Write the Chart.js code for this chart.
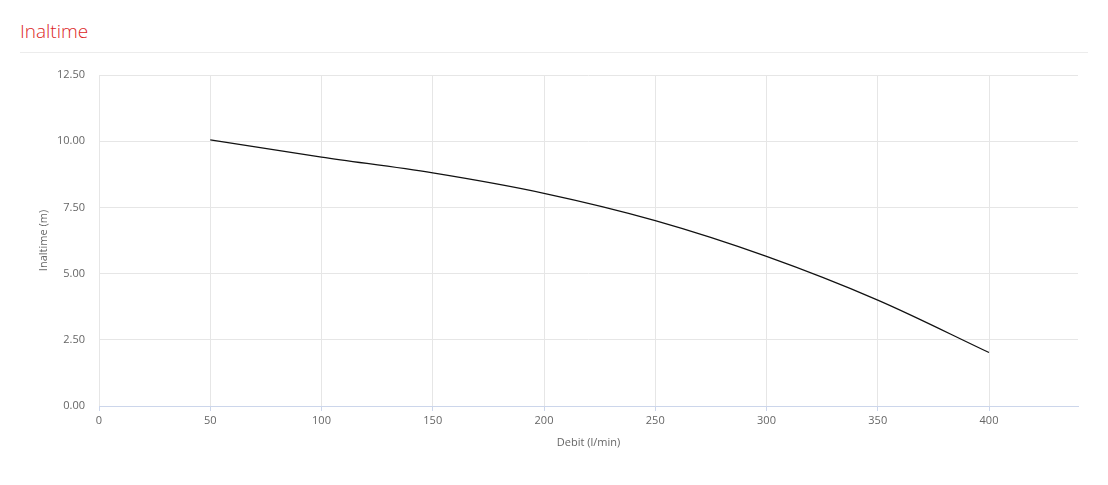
<!DOCTYPE html>
<html>
<head>
<meta charset="utf-8">
<script src="https://cdn.jsdelivr.net/npm/chart.js@4.4.1/dist/chart.umd.min.js"></script>
<style>
    html, body { margin: 0; padding: 0; background: #fff; }
    body { width: 1108px; height: 485px; position: relative; overflow: hidden; font-family: "Open Sans", sans-serif; }
    .titlu {
        position: absolute; left: 20px; top: 18px; width: 1068px;
        font-size: 19px; font-weight: 300; color: #dc1f27;
        padding-bottom: 8px; border-bottom: 1px solid #ececec;
        line-height: 26px;
    }
    #wrap { position: absolute; left: 0; top: 0; width: 1108px; height: 485px; }
</style>
</head>
<body>
<div class="titlu">Inaltime</div>
<div id="wrap"><canvas id="curba"></canvas></div>
<script>
// Debit (l/min) si inaltime (m)
const debit = [50, 100, 150, 200, 250, 300, 350, 400];
const inaltime = [10.05, 9.4, 8.8, 8.03, 7.0, 5.65, 4.0, 2.02];
const yTicks = [0, 2.5, 5, 7.5, 10, 12.5];

const gri = '#666666';

new Chart(document.getElementById('curba').getContext('2d'), {
    type: 'line',
    data: {
        datasets: [{
            data: debit.map((x, i) => ({ x: x, y: inaltime[i] })),
            borderColor: '#111111',
            borderWidth: 1.3,
            pointRadius: 0,
            fill: false,
            cubicInterpolationMode: 'monotone'
        }]
    },
    options: {
        responsive: true,
        maintainAspectRatio: false,
        animation: false,
        layout: { padding: { left: 30, right: 30, top: 75, bottom: 29 } },
        plugins: { legend: { display: false }, tooltip: { enabled: false } },
        scales: {
            x: {
                type: 'linear',
                min: 0,
                max: 440,
                afterBuildTicks: function(scale) {
                    scale.ticks = [0, 50, 100, 150, 200, 250, 300, 350, 400].map(v => ({ value: v }));
                },
                afterFit: function(scale) { scale.height = 50; },
                grid: { color: '#e6e6e6', tickColor: '#ccd6eb', tickLength: 5 },
                border: { color: '#ccd6eb', width: 1 },
                ticks: { color: gri, font: { family: 'Open Sans', size: 11 }, padding: 3, maxRotation: 0 },
                title: { display: true, text: 'Debit (l/min)', color: gri, font: { family: 'Open Sans', size: 11 }, padding: { top: 4, bottom: 7 } }
            },
            y: {
                min: 0,
                max: 12.5,
                afterBuildTicks: function(scale) {
                    scale.ticks = yTicks.map(v => ({ value: v }));
                },
                afterFit: function(scale) { scale.width = 69; },
                grid: { color: '#e6e6e6', drawTicks: false },
                border: { display: false },
                ticks: {
                    color: gri, font: { family: 'Open Sans', size: 11 }, padding: 14,
                    callback: v => v.toFixed(2)
                },
                title: { display: true, text: 'Inaltime (m)', color: gri, font: { family: 'Open Sans', size: 11 }, padding: { top: 7, bottom: 0 } }
            }
        }
    }
});
</script>
</body>
</html>
